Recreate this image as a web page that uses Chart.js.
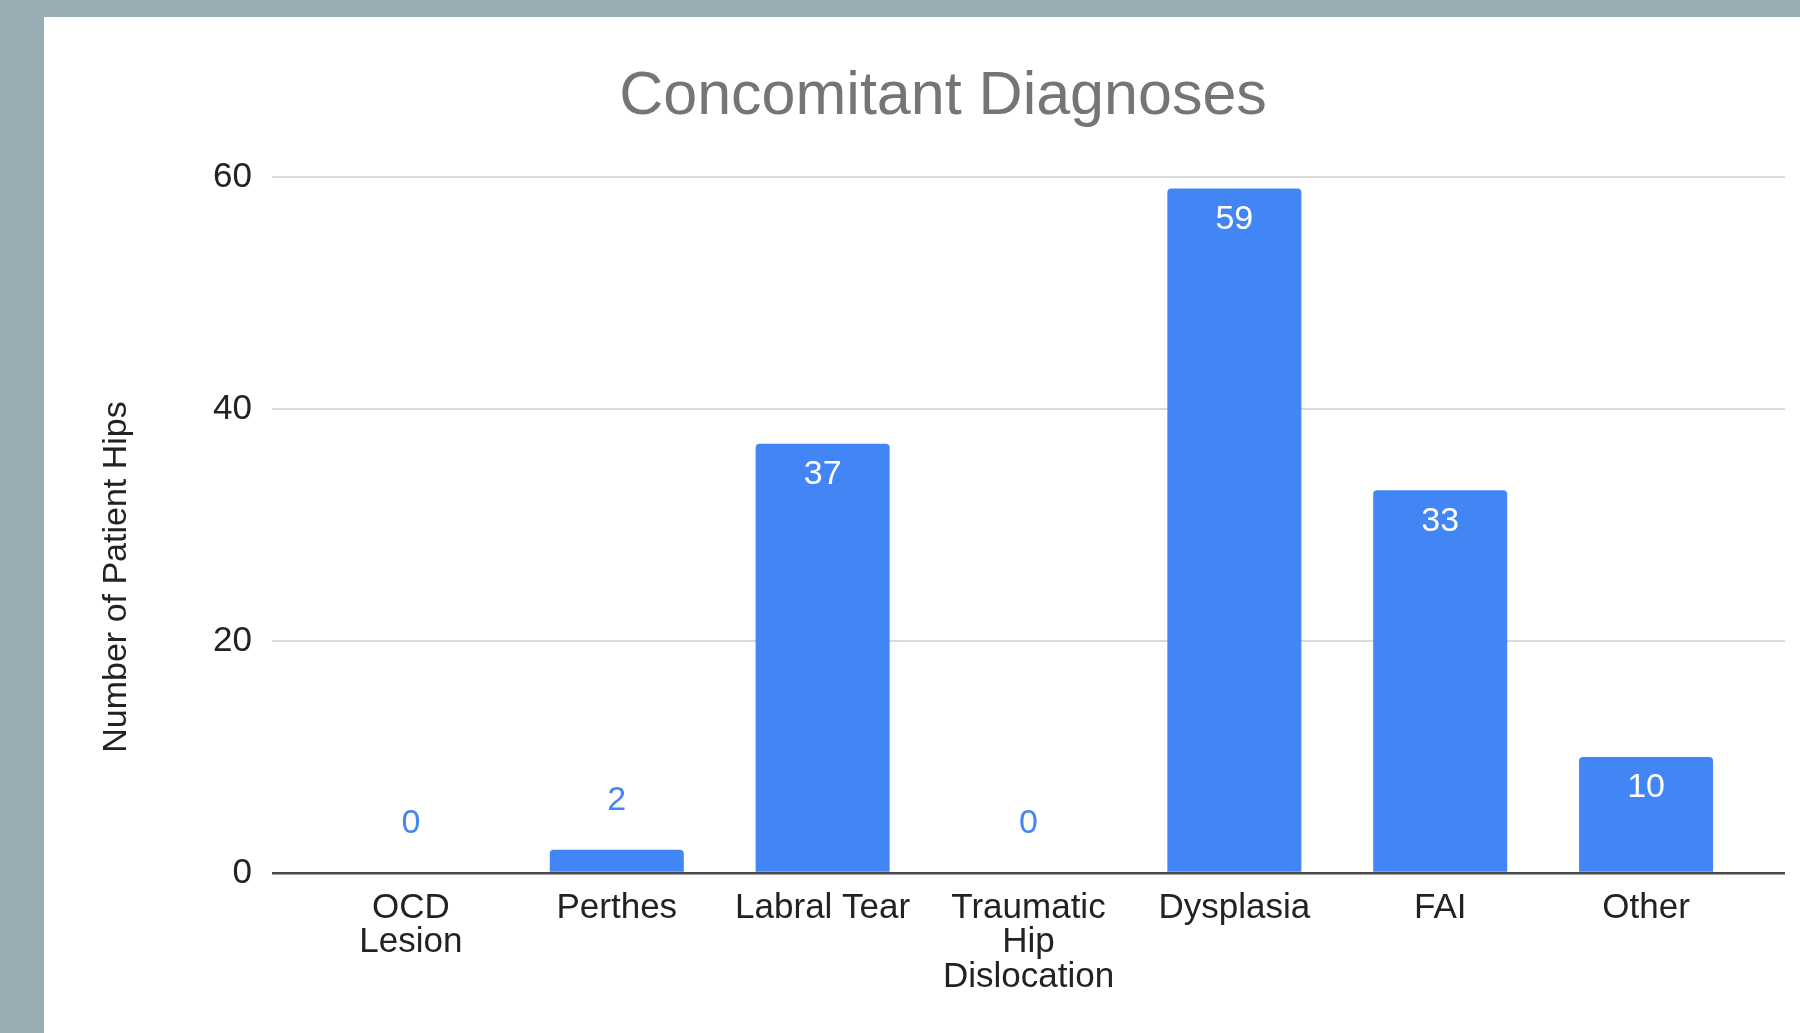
<!DOCTYPE html>
<html>
<head>
<meta charset="utf-8">
<title>Concomitant Diagnoses</title>
<script src="https://cdn.jsdelivr.net/npm/chart.js@4.4.1/dist/chart.umd.min.js"></script>
<style>
  html, body { margin: 0; padding: 0; background: #9badb4; overflow: hidden; }
  #card { position: absolute; left: 44px; top: 17px; width: 1756px; height: 1016px; background: #fff; }
</style>
</head>
<body>
<div id="card"><canvas id="diagChart"></canvas></div>
<script>
// --- DATA ---
const categories = [['OCD', 'Lesion'], 'Perthes', 'Labral Tear', ['Traumatic', 'Hip', 'Dislocation'], 'Dysplasia', 'FAI', 'Other'];
const hipCounts = [0, 2, 37, 0, 59, 33, 10];
const yTicks = [0, 20, 40, 60];

const chartTitle = 'Concomitant Diagnoses';
const yAxisTitle = 'Number of Patient Hips';

const FONT = '"Liberation Sans", Arial, Helvetica, sans-serif';
const BLUE = '#4285f4';

// grid: light lines, darker baseline at zero
const gridColor = c => (c.tick && c.tick.value === 0) ? '#4a4a4a' : '#d9d9d9';
const gridWidth = c => (c.tick && c.tick.value === 0) ? 2.5 : 2;

// value labels on / above the bars
const valueLabels = {
    id: 'valueLabels',
    afterDatasetsDraw(chart) {
        const { ctx } = chart;
        const meta = chart.getDatasetMeta(0);
        ctx.save();
        ctx.font = '34px ' + FONT;
        ctx.textAlign = 'center';
        ctx.textBaseline = 'middle';
        meta.data.forEach((bar, i) => {
            const inside = bar.base - bar.y > 60;
            ctx.fillStyle = inside ? '#ffffff' : BLUE;
            ctx.fillText(String(hipCounts[i]), bar.x, inside ? bar.y + 31 : bar.y - 49);
        });
        ctx.restore();
    }
};

// y axis title, sits a bit lower than the plot middle
const yTitle = {
    id: 'yTitle',
    afterDraw(chart) {
        const { ctx } = chart;
        ctx.save();
        ctx.translate(73, 560);
        ctx.rotate(-Math.PI / 2);
        ctx.font = '34px ' + FONT;
        ctx.fillStyle = '#222222';
        ctx.textAlign = 'center';
        ctx.textBaseline = 'middle';
        ctx.fillText(yAxisTitle, 0, 0);
        ctx.restore();
    }
};

const yScaleBase = {
    min: 0,
    max: 60,
    afterBuildTicks: s => { s.ticks = yTicks.map(v => ({ value: v })); },
    border: { display: false }
};

new Chart(document.getElementById('diagChart'), {
    type: 'bar',
    data: {
        labels: categories,
        datasets: [{
            label: yAxisTitle,
            data: hipCounts,
            backgroundColor: BLUE,
            barPercentage: 0.651,
            categoryPercentage: 1.0,
            borderRadius: { topLeft: 4, topRight: 4, bottomLeft: 0, bottomRight: 0 },
            borderSkipped: 'start'
        }]
    },
    options: {
        responsive: true,
        maintainAspectRatio: false,
        animation: false,
        layout: { padding: { left: 42, right: 0, top: 0, bottom: 20.5 } },
        plugins: {
            legend: { display: false },
            tooltip: { enabled: false },
            title: {
                display: true,
                text: chartTitle,
                color: '#757575',
                font: { family: FONT, size: 61, weight: 'normal', lineHeight: 1.2 },
                padding: { top: 44, bottom: 42.8 }
            }
        },
        scales: {
            x: {
                grid: { display: false, drawTicks: false },
                border: { display: false },
                ticks: {
                    color: '#222222',
                    font: { family: FONT, size: 35, lineHeight: 0.985 },
                    padding: 18,
                    maxRotation: 0,
                    autoSkip: false
                }
            },
            y: {
                ...yScaleBase,
                position: 'left',
                afterFit: s => { s.width = 222; },
                grid: { color: gridColor, lineWidth: gridWidth, drawTicks: true, tickLength: 36 },
                ticks: {
                    color: '#222222',
                    font: { family: FONT, size: 35 },
                    padding: 20
                }
            },
            yRight: {
                ...yScaleBase,
                position: 'right',
                afterFit: s => { s.width = 51; },
                grid: { color: gridColor, lineWidth: gridWidth, drawOnChartArea: false, drawTicks: true, tickLength: 36 },
                ticks: { display: false }
            }
        }
    },
    plugins: [valueLabels, yTitle]
});
</script>
</body>
</html>
